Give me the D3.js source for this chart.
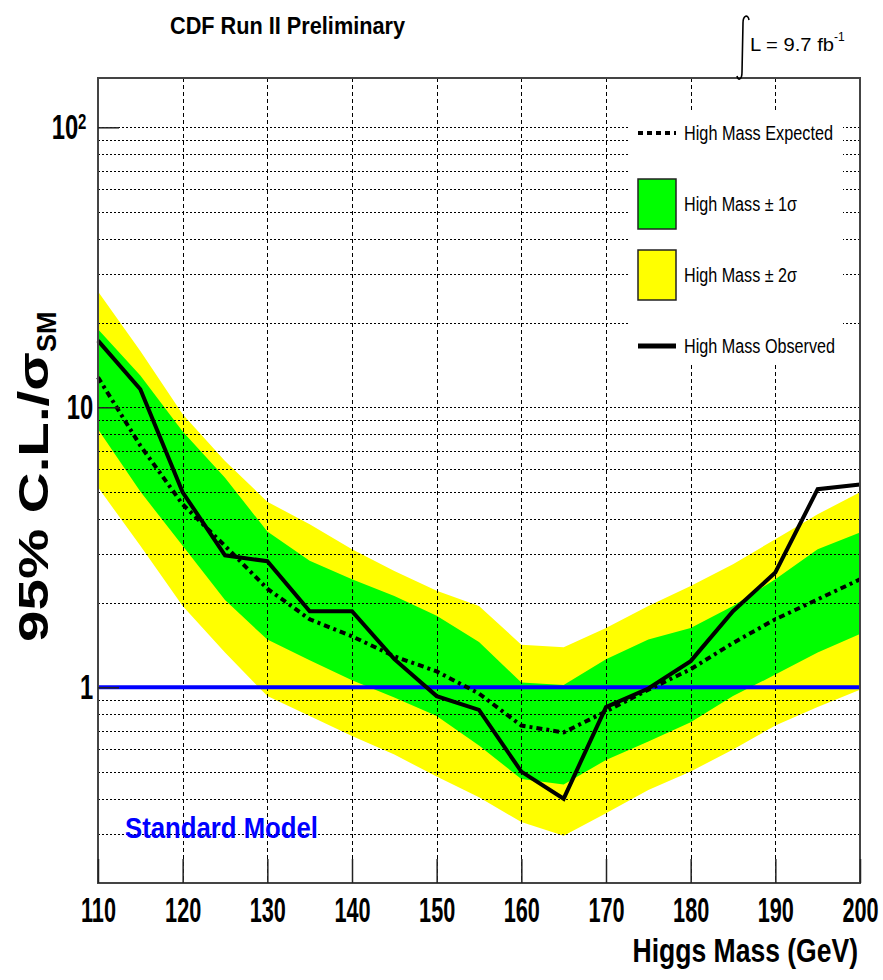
<!DOCTYPE html>
<html>
<head>
<meta charset="utf-8">
<script src="https://cdn.jsdelivr.net/npm/d3@7.9.0/dist/d3.min.js"></script>
<style>
  html, body { margin: 0; padding: 0; background: #fff; }
  svg { display: block; }
  text { font-family: 'Liberation Sans Narrow', 'Liberation Sans', Arial, sans-serif; }
</style>
</head>
<body>
<svg id="chart" width="883" height="980"></svg>
<script>
// Higgs mass points (GeV)
const masses = [110, 115, 120, 125, 130, 135, 140, 145, 150, 155, 160, 165, 170, 175, 180, 185, 190, 195, 200];

// 95% CL limit / sigma_SM
const observed = [17.3, 11.6, 4.97, 2.96, 2.82, 1.87, 1.87, 1.26, 0.93, 0.83, 0.50, 0.40, 0.85, 0.99, 1.24, 1.87, 2.57, 5.1, 5.3];
const expected = [12.8, 7.3, 4.5, 3.2, 2.25, 1.75, 1.52, 1.29, 1.14, 0.95, 0.73, 0.69, 0.82, 0.98, 1.16, 1.44, 1.75, 2.06, 2.43];
const sigma1Low = [8.35, 5.0, 3.2, 2.05, 1.48, 1.25, 1.06, 0.92, 0.79, 0.62, 0.47, 0.45, 0.55, 0.64, 0.75, 0.93, 1.11, 1.33, 1.55];
const sigma1High = [19.0, 13.0, 8.2, 5.6, 3.6, 2.83, 2.43, 2.12, 1.8, 1.45, 1.04, 1.02, 1.26, 1.48, 1.63, 1.95, 2.43, 3.11, 3.57];
const sigma2Low = [5.18, 3.2, 1.95, 1.33, 0.93, 0.79, 0.67, 0.575, 0.48, 0.405, 0.33, 0.295, 0.355, 0.43, 0.5, 0.6, 0.73, 0.85, 0.98];
const sigma2High = [25.9, 15.9, 9.44, 6.43, 4.6, 3.82, 3.11, 2.6, 2.21, 1.95, 1.42, 1.39, 1.63, 1.95, 2.3, 2.75, 3.38, 4.15, 4.97];

const smLevel = 1;
const xTicks = [110, 120, 130, 140, 150, 160, 170, 180, 190, 200];
const yTicks = [1, 10, 100];
const legendLabels = ['High Mass Expected', 'High Mass \u00b1 1\u03c3', 'High Mass \u00b1 2\u03c3', 'High Mass Observed'];

const width = 883;
const height = 980;
const margin = { top: 78, right: 23, bottom: 97, left: 98 };

const svg = d3.select('#chart');

const x = d3.scaleLinear().domain([110, 200]).range([margin.left, width - margin.right]);
const y = d3.scaleLog().domain([0.2, 150]).range([height - margin.bottom, margin.top]);

const rows = masses.map((m, i) => ({
  m,
  obs: observed[i],
  exp: expected[i],
  s1lo: sigma1Low[i],
  s1hi: sigma1High[i],
  s2lo: sigma2Low[i],
  s2hi: sigma2High[i]
}));

// bands
const band = (lo, hi) => d3.area()
  .x((d) => x(d.m))
  .y0((d) => y(d[lo]))
  .y1((d) => y(d[hi]));

svg.append('path').datum(rows).attr('d', band('s2lo', 's2hi')).attr('fill', '#ffff00');
svg.append('path').datum(rows).attr('d', band('s1lo', 's1hi')).attr('fill', '#00ff00');

// grid
const grid = svg.append('g').attr('stroke', '#000').attr('stroke-width', 1).attr('fill', 'none');
grid.selectAll('line.h')
  .data(y.ticks().filter((v) => v > 0.2 && v < 150))
  .join('line')
  .attr('x1', x(110)).attr('x2', x(200))
  .attr('y1', (d) => Math.round(y(d)) + 0.5).attr('y2', (d) => Math.round(y(d)) + 0.5)
  .attr('stroke-dasharray', '2,2');
grid.selectAll('line.v')
  .data(xTicks.slice(1, -1))
  .join('line')
  .attr('x1', (d) => Math.round(x(d)) + 0.5).attr('x2', (d) => Math.round(x(d)) + 0.5)
  .attr('y1', y.range()[1]).attr('y2', y.range()[0])
  .attr('stroke-dasharray', '4,3');

// standard model line
svg.append('line')
  .attr('x1', x(110)).attr('x2', x(200))
  .attr('y1', y(smLevel)).attr('y2', y(smLevel))
  .attr('stroke', '#0000ff').attr('stroke-width', 4);

const line = (key) => d3.line().x((d) => x(d.m)).y((d) => y(d[key]));

svg.append('path').datum(rows).attr('d', line('exp'))
  .attr('fill', 'none').attr('stroke', '#000').attr('stroke-width', 4)
  .attr('stroke-dasharray', '6,4,3,4');

svg.append('path').datum(rows).attr('d', line('obs'))
  .attr('fill', 'none').attr('stroke', '#000').attr('stroke-width', 4)
  .attr('stroke-linejoin', 'miter');

// legend
const legend = svg.append('g');
legend.append('rect').attr('x', 628).attr('y', 112).attr('width', 215).attr('height', 253).attr('fill', '#fff');

const legendRows = [133, 204, 275, 346];
legend.append('line').attr('x1', 638).attr('x2', 676).attr('y1', legendRows[0]).attr('y2', legendRows[0])
  .attr('stroke', '#000').attr('stroke-width', 4).attr('stroke-dasharray', '5,4');
legend.append('rect').attr('x', 638).attr('y', 179).attr('width', 38).attr('height', 50)
  .attr('fill', '#00ff00').attr('stroke', '#222').attr('stroke-width', 1.5);
legend.append('rect').attr('x', 638).attr('y', 250).attr('width', 38).attr('height', 50)
  .attr('fill', '#ffff00').attr('stroke', '#222').attr('stroke-width', 1.5);
legend.append('line').attr('x1', 638).attr('x2', 676).attr('y1', legendRows[3]).attr('y2', legendRows[3])
  .attr('stroke', '#000').attr('stroke-width', 5);

const legendWidths = [149, 113, 113, 151];
legend.selectAll('text.lab')
  .data(legendLabels)
  .join('text')
  .attr('x', 684)
  .attr('y', (d, i) => legendRows[i] + 7)
  .attr('font-size', 20)
  .attr('textLength', (d, i) => legendWidths[i])
  .attr('lengthAdjust', 'spacingAndGlyphs')
  .text((d) => d);

// frame
svg.append('rect')
  .attr('x', x(110)).attr('y', y.range()[1])
  .attr('width', x(200) - x(110)).attr('height', y.range()[0] - y.range()[1])
  .attr('fill', 'none').attr('stroke', '#444').attr('stroke-width', 2);

// x axis
const xAxisG = svg.append('g').attr('transform', `translate(0,${y.range()[0]})`);
xAxisG.call(d3.axisBottom(x).tickValues(d3.range(112, 200, 2)).tickSize(-12).tickFormat(''));
xAxisG.call(d3.axisBottom(x).tickValues(xTicks).tickSize(-24).tickPadding(14));
xAxisG.selectAll('.domain').remove();
xAxisG.selectAll('line').attr('stroke', '#222').attr('stroke-width', 1.5);
xAxisG.selectAll('text')
  .attr('font-size', 35).attr('font-weight', 'bold').attr('fill', '#000')
  .attr('transform', 'scale(0.62,1)');

// y axis
const yAxisG = svg.append('g').attr('transform', `translate(${x(110)},0)`);
yAxisG.call(d3.axisLeft(y).tickValues(y.ticks().filter((v) => yTicks.indexOf(v) < 0)).tickSize(-11).tickFormat(''));
yAxisG.call(d3.axisLeft(y).tickValues(yTicks).tickSize(-21).tickPadding(7).tickFormat((d) => (d === 100 ? '10' : String(d))));
yAxisG.selectAll('.domain').remove();
yAxisG.selectAll('line').attr('stroke', '#222').attr('stroke-width', 1.5);
yAxisG.selectAll('text')
  .attr('font-size', 35).attr('font-weight', 'bold').attr('fill', '#000')
  .attr('transform', 'scale(0.68,1)');
yAxisG.selectAll('.tick').filter((d) => d === 100).select('text')
  .attr('x', -17)
  .append('tspan').attr('dy', '-0.45em').attr('font-size', 22).text('2');

// titles
svg.append('text')
  .attr('x', 170).attr('y', 34)
  .attr('font-size', 23).attr('font-weight', 'bold')
  .attr('textLength', 235).attr('lengthAdjust', 'spacingAndGlyphs')
  .text('CDF Run II Preliminary');

svg.append('path')
  .attr('d', 'M749,20 C748,14 743,15 743,23 L742,72 C742,80 738,81 737,76')
  .attr('fill', 'none').attr('stroke', '#000').attr('stroke-width', 1.6);

const lumi = svg.append('text').attr('x', 750).attr('y', 51).attr('font-size', 18);
lumi.append('tspan').attr('textLength', 84).attr('lengthAdjust', 'spacingAndGlyphs').text('L = 9.7 fb');
lumi.append('tspan').attr('dy', -10).attr('font-size', 12).text('-1');

svg.append('text')
  .attr('transform', `translate(${width - margin.right - 2},962) scale(0.78,1)`)
  .attr('text-anchor', 'end')
  .attr('font-size', 34).attr('font-weight', 'bold')
  .text('Higgs Mass (GeV)');

svg.append('text')
  .attr('x', 125).attr('y', 838)
  .attr('font-size', 29).attr('font-weight', 'bold').attr('fill', '#0000ff')
  .attr('textLength', 193).attr('lengthAdjust', 'spacingAndGlyphs')
  .text('Standard Model');

const yTitle = svg.append('text')
  .attr('transform', 'translate(48,642) rotate(-90)')
  .attr('font-family', 'Liberation Sans, Arial, sans-serif')
  .attr('font-size', 42).attr('font-weight', 'bold');
yTitle.append('tspan').attr('textLength', 290).attr('lengthAdjust', 'spacingAndGlyphs').text('95% C.L./\u03c3');
yTitle.append('tspan').attr('dy', 8).attr('font-size', 27).text('SM');
</script>
</body>
</html>
